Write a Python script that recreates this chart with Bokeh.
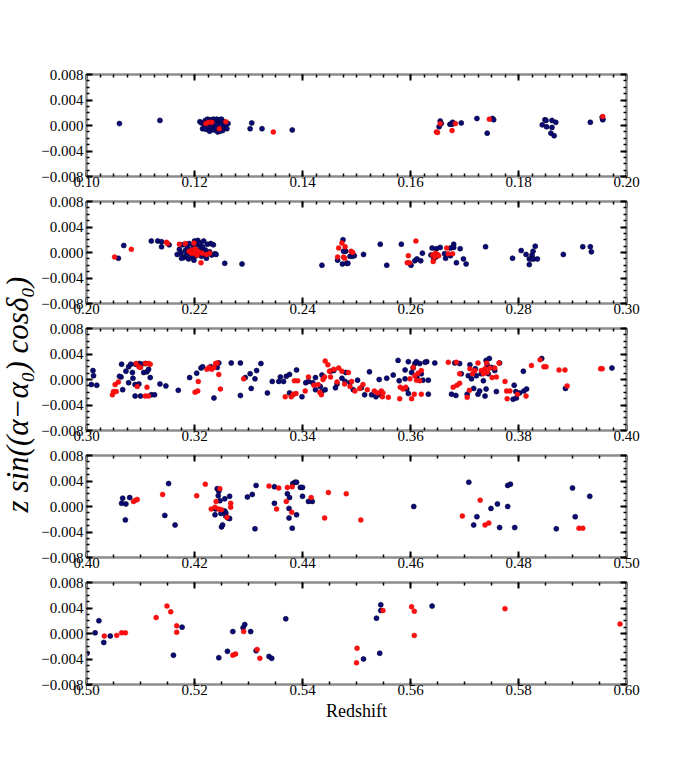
import math
from bokeh.plotting import figure
from bokeh.layouts import column, row
from bokeh.models import Range1d, LinearAxis, FixedTicker, NumeralTickFormatter
from bokeh.core.properties import value
from bokeh.embed import file_html
from bokeh.resources import INLINE

# ---------------- data ----------------
PANEL_RANGES = [(0.10, 0.20), (0.20, 0.30), (0.30, 0.40), (0.40, 0.50), (0.50, 0.60)]
MINOR_STEPS = [0.0025, 0.0025, 0.0025, 0.005, 0.005]
Y_TICKS = [-0.008, -0.004, 0.0, 0.004, 0.008]
Y_TICK_LABELS = ["\u22120.008", "\u22120.004", "0.000", "0.004", "0.008"]
X_LABEL = "Redshift"
Y_LABEL = "z sin((\u03b1\u2212\u03b1\u2080) cos\u03b4\u2080)"

P1_NAVY = [(0.1061, 0.0003), (0.1136, 0.0008), (0.1210, 0.0006), (0.1213, 0.0004), (0.1215, -0.0005),
           (0.1218, 0.0002), (0.1220, 0.0008), (0.1222, -0.0006), (0.1224, 0.0010), (0.1225, -0.0002),
           (0.1227, 0.0004), (0.1228, -0.0009), (0.1230, 0.0009), (0.1232, -0.0004), (0.1233, 0.0001),
           (0.1235, 0.0010), (0.1236, -0.0007), (0.1238, 0.0006), (0.1240, -0.0002), (0.1241, 0.0010),
           (0.1243, -0.0010), (0.1244, 0.0003), (0.1246, 0.0009), (0.1248, -0.0005), (0.1249, 0.0001),
           (0.1250, 0.0010), (0.1252, -0.0008), (0.1254, 0.0006), (0.1256, -0.0003), (0.1258, 0.0002),
           (0.1260, -0.0005), (0.1262, 0.0003), (0.1229, 0.0007), (0.1237, 0.0003), (0.1247, -0.0009),
           (0.1219, -0.0005), (0.1303, -0.0005), (0.1306, 0.0004), (0.1325, -0.0005), (0.1381, -0.0007),
           (0.1655, 0.0007), (0.1657, 0.0003), (0.1653, -0.0002), (0.1673, 0.0002), (0.1678, 0.0005),
           (0.1677, 0.0002), (0.1694, 0.0004), (0.1723, 0.0011), (0.1742, -0.0012), (0.1752, 0.0011),
           (0.1754, 0.0009), (0.1844, 0.0001), (0.1849, 0.0009), (0.1851, 0.0008), (0.1852, -0.0002),
           (0.1862, 0.0008), (0.1862, -0.0003), (0.1869, 0.0005), (0.1860, -0.0012), (0.1866, -0.0016),
           (0.1933, 0.0005), (0.1956, 0.0010), (0.1955, 0.0013), (0.1956, 0.0009)]
P1_RED = [(0.1221, 0.0003), (0.1226, 0.0005), (0.1232, 0.0005), (0.1246, -0.0005), (0.1258, 0.0006),
          (0.1346, -0.0010), (0.1655, 0.0003), (0.1648, -0.0010), (0.1650, -0.0011), (0.1683, 0.0003),
          (0.1677, -0.0008), (0.1746, 0.0010), (0.1956, 0.0014)]

P2_NAVY = [(0.2059, -0.0009), (0.2069, 0.0011), (0.2120, 0.0018), (0.2132, 0.0018), (0.2139, 0.0017),
           (0.2139, 0.0009), (0.2153, 0.0012),
           (0.2168, -0.0003), (0.2172, 0.0005), (0.2175, -0.0001), (0.2178, 0.0012), (0.2180, -0.0008),
           (0.2183, 0.0003), (0.2185, -0.0004), (0.2187, 0.0008), (0.2190, 0.0014), (0.2192, -0.0002),
           (0.2194, 0.0004), (0.2196, -0.0007), (0.2198, 0.0010), (0.2200, 0.0018), (0.2202, 0.0002),
           (0.2203, -0.0005), (0.2205, 0.0012), (0.2206, 0.0019), (0.2208, -0.0002), (0.2210, 0.0015),
           (0.2211, 0.0006), (0.2213, -0.0006), (0.2215, 0.0009), (0.2217, 0.0018), (0.2218, -0.0003),
           (0.2220, 0.0004), (0.2222, -0.0009), (0.2224, 0.0013), (0.2226, -0.0002), (0.2228, 0.0001),
           (0.2230, 0.0014), (0.2232, -0.0004), (0.2235, 0.0012), (0.2238, -0.0002), (0.2240, -0.0003),
           (0.2176, -0.0009), (0.2189, -0.0010), (0.2199, -0.0012),
           (0.2256, -0.0017), (0.2288, -0.0018), (0.2436, -0.0020), (0.2475, 0.0020), (0.2480, 0.0002),
           (0.2465, -0.0012), (0.2482, -0.0017), (0.2476, 0.0002), (0.2488, -0.0006), (0.2492, -0.0006),
           (0.2496, -0.0005), (0.2474, -0.0018), (0.2484, -0.0017), (0.2513, -0.0003), (0.2544, 0.0013),
           (0.2556, -0.0020), (0.2583, 0.0013), (0.2601, -0.0020), (0.2608, -0.0013), (0.2612, -0.0010),
           (0.2619, -0.0013), (0.2622, -0.0001), (0.2640, 0.0007), (0.2648, 0.0006), (0.2655, 0.0008),
           (0.2643, -0.0010), (0.2647, -0.0007), (0.2638, -0.0004), (0.2665, -0.0009), (0.2674, -0.0005),
           (0.2663, -0.0002), (0.2674, 0.0007), (0.2680, 0.0013), (0.2680, 0.0008), (0.2692, 0.0006),
           (0.2685, -0.0016), (0.2698, -0.0010), (0.2703, -0.0018), (0.2739, 0.0009), (0.2789, -0.0009),
           (0.2805, 0.0003), (0.2814, -0.0003), (0.2825, -0.0004), (0.2827, 0.0002), (0.2831, 0.0010),
           (0.2820, -0.0010), (0.2824, -0.0010), (0.2828, -0.0010), (0.2835, -0.0010), (0.2820, -0.0019),
           (0.2883, -0.0003), (0.2919, 0.0009), (0.2933, 0.0009), (0.2935, 0.0001)]
P2_RED = [(0.2052, -0.0007), (0.2083, 0.0005), (0.2148, 0.0016), (0.2150, 0.0014),
          (0.2172, 0.0013), (0.2183, 0.0014), (0.2190, 0.0002), (0.2194, -0.0001), (0.2196, 0.0004),
          (0.2198, 0.0001), (0.2200, -0.0002), (0.2201, 0.0006), (0.2202, 0.0000), (0.2204, 0.0003),
          (0.2205, -0.0004), (0.2199, 0.0015), (0.2212, -0.0016), (0.2208, 0.0001), (0.2214, -0.0001),
          (0.2222, -0.0003), (0.2228, -0.0001),
          (0.2467, 0.0007), (0.2473, 0.0015), (0.2479, 0.0009), (0.2465, -0.0007), (0.2476, -0.0007),
          (0.2490, 0.0002), (0.2493, 0.0000), (0.2478, -0.0009), (0.2596, -0.0005), (0.2594, -0.0016),
          (0.2598, -0.0016), (0.2610, 0.0018), (0.2641, -0.0004), (0.2646, -0.0001), (0.2650, -0.0003),
          (0.2645, -0.0007), (0.2652, -0.0005), (0.2642, -0.0014), (0.2667, 0.0007), (0.2670, -0.0002),
          (0.2678, -0.0002)]

P3_NAVY = [(0.3012, 0.0014), (0.3013, 0.0006), (0.3009, -0.0008), (0.3019, -0.0009), (0.3065, 0.0024),
           (0.3078, 0.0020), (0.3082, 0.0024), (0.3091, 0.0024), (0.3098, 0.0025), (0.3102, 0.0024),
           (0.3109, 0.0025), (0.3073, 0.0013), (0.3064, 0.0004), (0.3061, 0.0005), (0.3085, 0.0011),
           (0.3086, 0.0002), (0.3078, -0.0005), (0.3090, -0.0008), (0.3097, -0.0007), (0.3106, 0.0011),
           (0.3112, 0.0012), (0.3118, 0.0003), (0.3115, 0.0016), (0.3067, -0.0016), (0.3090, -0.0026),
           (0.3100, -0.0026), (0.3120, -0.0024), (0.3126, -0.0024), (0.3136, -0.0007), (0.3147, -0.0010),
           (0.3170, -0.0017), (0.3191, 0.0003), (0.3204, 0.0010), (0.3212, 0.0018), (0.3215, 0.0020),
           (0.3230, 0.0020), (0.3236, -0.0029), (0.3242, 0.0019), (0.3245, 0.0026), (0.3268, 0.0026),
           (0.3285, 0.0026), (0.3285, -0.0025), (0.3294, 0.0003), (0.3303, 0.0009), (0.3305, -0.0014),
           (0.3312, 0.0001), (0.3315, 0.0014), (0.3323, 0.0025), (0.3335, -0.0021), (0.3344, -0.0003),
           (0.3356, -0.0003), (0.3359, 0.0004), (0.3365, -0.0003), (0.3370, 0.0005), (0.3376, 0.0008),
           (0.3376, -0.0021), (0.3382, -0.0024), (0.3389, 0.0015), (0.3399, -0.0027), (0.3406, -0.0005),
           (0.3411, -0.0003), (0.3419, -0.0005), (0.3424, 0.0003), (0.3424, -0.0016), (0.3433, -0.0011),
           (0.3436, 0.0007), (0.3436, -0.0019), (0.3442, -0.0016), (0.3452, 0.0013), (0.3458, 0.0014),
           (0.3461, -0.0013), (0.3464, -0.0007), (0.3473, 0.0002), (0.3479, -0.0003), (0.3480, 0.0011),
           (0.3488, -0.0005), (0.3494, -0.0016), (0.3502, -0.0001), (0.3509, -0.0013), (0.3515, -0.0024),
           (0.3524, 0.0012), (0.3528, -0.0024), (0.3536, -0.0027), (0.3542, 0.0000), (0.3544, -0.0024),
           (0.3556, 0.0002), (0.3568, 0.0007), (0.3577, 0.0030), (0.3579, -0.0002), (0.3590, 0.0001),
           (0.3596, 0.0028), (0.3590, 0.0015), (0.3593, -0.0015), (0.3596, -0.0022), (0.3602, 0.0011),
           (0.3605, 0.0018), (0.3608, 0.0025), (0.3611, 0.0028), (0.3612, 0.0003), (0.3617, 0.0025),
           (0.3620, 0.0009), (0.3623, -0.0001), (0.3630, 0.0028), (0.3627, 0.0027), (0.3633, -0.0001),
           (0.3633, -0.0023), (0.3645, 0.0026), (0.3676, -0.0023), (0.3684, -0.0025), (0.3682, 0.0026),
           (0.3691, 0.0025), (0.3694, 0.0009), (0.3705, -0.0023), (0.3707, 0.0006), (0.3710, 0.0023),
           (0.3713, 0.0001), (0.3717, -0.0014), (0.3720, 0.0017), (0.3722, 0.0006), (0.3725, -0.0023),
           (0.3728, -0.0018), (0.3731, 0.0009), (0.3735, -0.0002), (0.3738, -0.0026), (0.3740, 0.0030),
           (0.3742, 0.0023), (0.3740, -0.0015), (0.3744, 0.0009), (0.3746, 0.0033), (0.3750, 0.0019),
           (0.3756, 0.0014), (0.3759, -0.0019), (0.3765, 0.0026), (0.3792, -0.0009), (0.3795, -0.0019),
           (0.3790, -0.0031), (0.3796, -0.0029), (0.3802, -0.0021), (0.3810, -0.0018), (0.3809, 0.0013),
           (0.3815, -0.0015), (0.3843, 0.0033), (0.3887, -0.0014), (0.3973, 0.0018)]
P3_RED = [(0.3048, -0.0024), (0.3050, -0.0019), (0.3055, -0.0019), (0.3053, -0.0008), (0.3059, -0.0004),
          (0.3092, 0.0025), (0.3097, 0.0020), (0.3100, 0.0019), (0.3109, 0.0025), (0.3115, 0.0025),
          (0.3118, 0.0024), (0.3094, -0.0011), (0.3109, -0.0026), (0.3115, -0.0026), (0.3112, -0.0012),
          (0.3201, -0.0020), (0.3206, -0.0018), (0.3207, -0.0003), (0.3223, 0.0016), (0.3227, 0.0019),
          (0.3232, 0.0016), (0.3236, 0.0019), (0.3239, 0.0025), (0.3242, 0.0026), (0.3245, 0.0008),
          (0.3248, -0.0015), (0.3291, 0.0001), (0.3368, -0.0027), (0.3379, -0.0027), (0.3383, -0.0023),
          (0.3385, -0.0002), (0.3388, -0.0022), (0.3391, -0.0002), (0.3411, 0.0004), (0.3405, -0.0018),
          (0.3421, -0.0009), (0.3429, -0.0008), (0.3432, -0.0020), (0.3435, -0.0024), (0.3438, 0.0000),
          (0.3442, 0.0029), (0.3441, 0.0004), (0.3447, 0.0023), (0.3450, 0.0013), (0.3452, 0.0004),
          (0.3458, 0.0016), (0.3464, -0.0004), (0.3467, 0.0018), (0.3473, 0.0013), (0.3478, -0.0007),
          (0.3485, 0.0011), (0.3488, -0.0011), (0.3491, -0.0003), (0.3497, -0.0018), (0.3506, -0.0014),
          (0.3512, -0.0008), (0.3520, -0.0016), (0.3533, -0.0018), (0.3539, -0.0021), (0.3548, -0.0027),
          (0.3546, -0.0018), (0.3549, -0.0021), (0.3559, -0.0028), (0.3580, -0.0030), (0.3581, -0.0012),
          (0.3586, -0.0015), (0.3591, -0.0012), (0.3602, -0.0030), (0.3599, 0.0001), (0.3605, 0.0019),
          (0.3608, 0.0006), (0.3611, -0.0001), (0.3614, 0.0010), (0.3617, -0.0002), (0.3620, 0.0014),
          (0.3607, -0.0023), (0.3620, -0.0023), (0.3670, 0.0027), (0.3685, 0.0027), (0.3679, -0.0012),
          (0.3686, -0.0009), (0.3691, -0.0006), (0.3691, 0.0009), (0.3705, -0.0028), (0.3709, -0.0017),
          (0.3710, 0.0017), (0.3715, 0.0009), (0.3719, 0.0014), (0.3725, 0.0026), (0.3731, 0.0014),
          (0.3735, 0.0009), (0.3738, 0.0017), (0.3741, 0.0026), (0.3742, 0.0011), (0.3747, 0.0018),
          (0.3751, 0.0003), (0.3756, 0.0018), (0.3759, 0.0004), (0.3764, 0.0026), (0.3775, -0.0003),
          (0.3778, -0.0018), (0.3779, -0.0030), (0.3784, -0.0018), (0.3798, -0.0023), (0.3814, -0.0026),
          (0.3824, 0.0022), (0.3840, 0.0031), (0.3847, 0.0020), (0.3851, 0.0020), (0.3875, 0.0015),
          (0.3886, 0.0015), (0.3890, -0.0010), (0.3952, 0.0017), (0.3955, 0.0017)]

P4_NAVY = [(0.4065, 0.0005), (0.4067, 0.0013), (0.4073, 0.0004), (0.4072, -0.0021), (0.4080, 0.0014),
           (0.4145, -0.0014), (0.4152, 0.0036), (0.4164, -0.0029), (0.4238, -0.0013), (0.4239, -0.0004),
           (0.4242, 0.0028), (0.4245, 0.0024), (0.4244, 0.0017), (0.4247, 0.0009), (0.4249, -0.0011),
           (0.4250, -0.0032), (0.4252, -0.0029), (0.4256, 0.0012), (0.4256, -0.0007), (0.4258, -0.0010),
           (0.4258, -0.0015), (0.4262, -0.0018), (0.4265, 0.0016), (0.4265, -0.0019), (0.4298, 0.0015),
           (0.4307, 0.0019), (0.4314, 0.0033), (0.4312, -0.0035), (0.4348, 0.0031), (0.4348, 0.0005),
           (0.4372, 0.0020), (0.4376, 0.0014), (0.4375, -0.0003), (0.4375, -0.0018), (0.4382, 0.0036),
           (0.4386, 0.0038), (0.4389, 0.0038), (0.4389, -0.0013), (0.4396, 0.0030), (0.4400, 0.0030),
           (0.4400, 0.0016), (0.4411, 0.0008), (0.4418, 0.0008), (0.4381, -0.0034), (0.4606, 0.0000),
           (0.4708, 0.0038), (0.4723, -0.0016), (0.4717, -0.0029), (0.4749, -0.0003), (0.4761, 0.0004),
           (0.4765, -0.0033), (0.4780, 0.0033), (0.4785, 0.0035), (0.4780, 0.0000), (0.4793, -0.0033),
           (0.4870, -0.0035), (0.4900, 0.0029), (0.4905, -0.0016), (0.4932, 0.0016)]
P4_RED = [(0.4087, 0.0008), (0.4091, 0.0010), (0.4094, 0.0011), (0.4141, 0.0019), (0.4204, 0.0017),
          (0.4220, 0.0035), (0.4231, -0.0004), (0.4238, -0.0001), (0.4240, 0.0008), (0.4247, 0.0028),
          (0.4245, -0.0004), (0.4250, -0.0005), (0.4260, -0.0017), (0.4267, 0.0005), (0.4267, -0.0001),
          (0.4338, 0.0032), (0.4352, -0.0004), (0.4356, 0.0029), (0.4370, 0.0008), (0.4372, 0.0030),
          (0.4380, -0.0009), (0.4381, 0.0031), (0.4416, 0.0014), (0.4441, -0.0018), (0.4448, 0.0022),
          (0.4481, 0.0020), (0.4508, -0.0021), (0.4696, -0.0015), (0.4729, 0.0010), (0.4738, -0.0029),
          (0.4745, -0.0026), (0.4912, -0.0034), (0.4919, -0.0034)]

P5_NAVY = [(0.5001, -0.0031), (0.5016, 0.0001), (0.5023, 0.0020), (0.5032, -0.0014), (0.5044, -0.0004),
           (0.5161, -0.0034), (0.5177, 0.0010), (0.5245, -0.0038), (0.5261, -0.0028), (0.5271, 0.0003),
           (0.5290, 0.0009), (0.5293, 0.0014), (0.5304, 0.0003), (0.5314, -0.0027), (0.5338, -0.0036),
           (0.5343, -0.0039), (0.5369, 0.0023), (0.5513, -0.0040), (0.5537, 0.0024), (0.5545, 0.0045),
           (0.5545, 0.0036), (0.5543, -0.0031), (0.5640, 0.0043)]
P5_RED = [(0.5033, -0.0004), (0.5056, -0.0003), (0.5065, 0.0001), (0.5072, 0.0001), (0.5129, 0.0025),
          (0.5149, 0.0043), (0.5156, 0.0034), (0.5167, 0.0012), (0.5167, 0.0002), (0.5271, -0.0034),
          (0.5276, -0.0032), (0.5291, 0.0003), (0.5316, -0.0025), (0.5321, -0.0039), (0.5500, -0.0046),
          (0.5501, -0.0023), (0.5549, 0.0036), (0.5602, 0.0042), (0.5607, 0.0035), (0.5607, -0.0003),
          (0.5775, 0.0039), (0.5988, 0.0015)]

PANEL_NAVY = [P1_NAVY, P2_NAVY, P3_NAVY, P4_NAVY, P5_NAVY]
PANEL_RED = [P1_RED, P2_RED, P3_RED, P4_RED, P5_RED]

# ---------------- style ----------------
FONT = "Liberation Serif"
FRAME_GRAY = "#8c8c8c"
NAVY = "#0a0a78"
NAVY_EDGE = "#000030"
RED = "#ff1010"
FRAME_W, FRAME_H = 540, 102
LAB_W = 38
LEFT_B, RIGHT_B = 48, 30
TOP_FIRST, TOP_OTHER = 74, 8
BOTTOM_OTHER, BOTTOM_LAST = 17, 45


def style_axis(ax, major, minor, labels=None):
    ax.ticker = FixedTicker(ticks=major, minor_ticks=minor)
    ax.major_tick_in = 6
    ax.major_tick_out = 0
    ax.minor_tick_in = 3
    ax.minor_tick_out = 0
    ax.major_tick_line_color = "black"
    ax.major_tick_line_width = 2
    ax.minor_tick_line_color = "black"
    ax.minor_tick_line_width = 1.5
    ax.axis_line_color = FRAME_GRAY
    ax.axis_line_width = 2
    ax.major_label_text_font = FONT
    ax.major_label_text_font_size = "15px"
    ax.major_label_text_color = "black"
    if labels is None:
        ax.major_label_overrides = {t: "" for t in major}
        ax.major_label_text_font_size = "0px"
        ax.major_label_standoff = 0
    elif labels == "fmt":
        ax.formatter = NumeralTickFormatter(format="0.00")
        ax.major_label_standoff = 0
    else:
        ax.major_label_overrides = dict(zip(major, labels))
        ax.major_label_standoff = 3


def make_panel(i):
    lo, hi = PANEL_RANGES[i]
    first, last = i == 0, i == len(PANEL_RANGES) - 1
    p = figure(frame_width=FRAME_W, frame_height=FRAME_H,
               x_range=Range1d(lo, hi), y_range=Range1d(-0.008, 0.008),
               output_backend="svg", toolbar_location=None,
               min_border_left=LEFT_B, min_border_right=RIGHT_B,
               min_border_top=TOP_FIRST if first else TOP_OTHER,
               min_border_bottom=BOTTOM_LAST if last else BOTTOM_OTHER,
               outline_line_color=FRAME_GRAY, outline_line_width=2,
               background_fill_color="white", border_fill_color="white")
    p.xgrid.visible = False
    p.ygrid.visible = False

    xmajor = [round(lo + 0.02 * k, 2) for k in range(6)]
    step = MINOR_STEPS[i]
    nmin = int(round((hi - lo) / step))
    xminor = [round(lo + step * k, 5) for k in range(nmin + 1)]
    yminor = [round(-0.008 + 0.001 * k, 4) for k in range(17)]

    bottom = p.xaxis[0]
    left = p.yaxis[0]
    style_axis(bottom, xmajor, xminor, "fmt")
    style_axis(left, Y_TICKS, yminor, Y_TICK_LABELS)

    top = LinearAxis()
    style_axis(top, xmajor, xminor, None)
    p.add_layout(top, "above")
    right = LinearAxis()
    style_axis(right, Y_TICKS, yminor, None)
    p.add_layout(right, "right")

    if last:
        bottom.axis_label = X_LABEL
        bottom.axis_label_text_font = FONT
        bottom.axis_label_text_font_style = "normal"
        bottom.axis_label_text_font_size = "18px"
        bottom.axis_label_text_color = "black"
        bottom.axis_label_standoff = 3

    nz = [a for a, b in PANEL_NAVY[i]]
    nv = [b for a, b in PANEL_NAVY[i]]
    rz = [a for a, b in PANEL_RED[i]]
    rv = [b for a, b in PANEL_RED[i]]
    p.scatter(nz, nv, size=5, fill_color=NAVY, line_color=NAVY_EDGE, line_width=0.6)
    p.scatter(rz, rv, size=5, fill_color=RED, line_color="#e00000", line_width=0.4)
    return p


panels = [make_panel(i) for i in range(len(PANEL_RANGES))]
n = len(panels)
TOTAL_H = (TOP_FIRST + (n - 1) * TOP_OTHER + n * FRAME_H
           + (n - 1) * BOTTOM_OTHER + BOTTOM_LAST)

lab = figure(frame_width=LAB_W, frame_height=TOTAL_H,
             x_range=Range1d(0, LAB_W), y_range=Range1d(0, TOTAL_H),
             x_axis_location=None, y_axis_location=None,
             output_backend="svg", toolbar_location=None, min_border=0,
             outline_line_color=None, background_fill_color="white", border_fill_color="white")
lab.grid.visible = False
lab.text(x=[17], y=[TOTAL_H - 394], text=[Y_LABEL], angle=math.pi / 2,
         text_align="center", text_baseline="middle",
         text_font=value(FONT), text_font_style="italic", text_font_size="31px",
         text_color="black")

layout = row(lab, column(*panels, spacing=0), spacing=0)
open("out.html", "w").write(file_html(layout, INLINE))
